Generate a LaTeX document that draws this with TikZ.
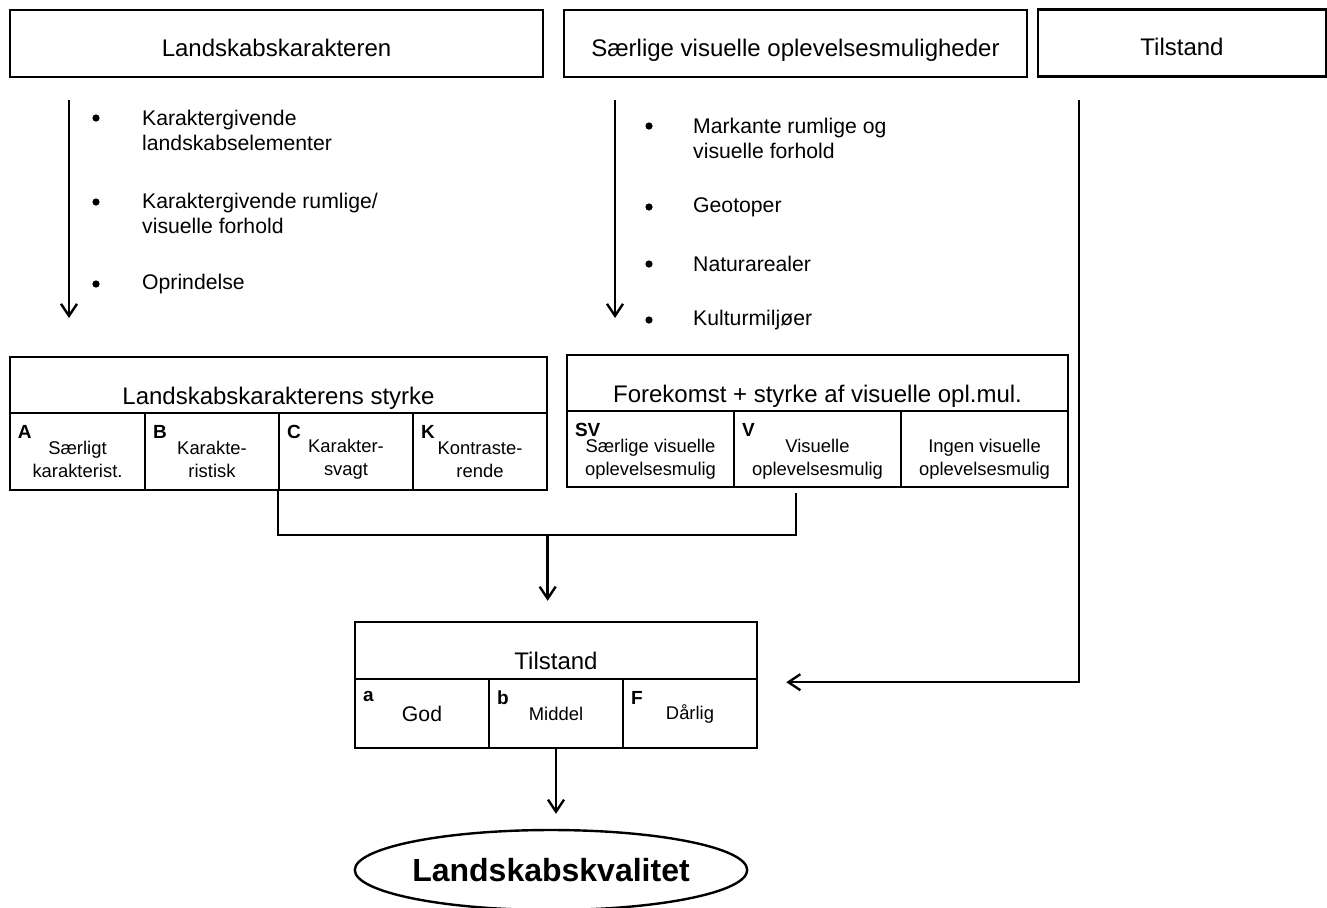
\documentclass[tikz,border=0pt]{standalone}
\usepackage{fontspec}
\setmainfont{Liberation Sans}
\usetikzlibrary{arrows.meta,shapes.geometric,calc}
\newcommand{\cellup}[1]{\rule{0pt}{#1}}

\begin{document}
\begin{tikzpicture}[
  x=0.5pt,y=-0.5pt,
  line width=1.2pt,
  >={Straight Barb[length=6pt,width=8pt]},
  bx/.style={draw,rectangle,inner sep=2pt,minimum height=33.5pt,font=\fontsize{12}{14}\selectfont,text height=12.5pt,text depth=0pt},
  hd/.style={draw,rectangle,inner sep=2pt,minimum height=28pt,font=\fontsize{12}{14}\selectfont,text height=19pt,text depth=0pt},
  cl/.style={draw,rectangle,inner sep=1pt,minimum width=67pt,align=center,font=\fontsize{9.2}{11.5}\selectfont},
  mk/.style={label={[anchor=north west,inner sep=0pt,xshift=4pt,yshift=-6pt,font=\bfseries\fontsize{9.5}{11}\selectfont]north west:#1}},
  itm/.style={anchor=west,align=left,inner sep=0pt,font=\fontsize{10.6}{12.5}\selectfont},
  dot/.style={circle,fill,inner sep=0pt,minimum size=3.6pt}
]
\useasboundingbox (0,0) rectangle (1327,907);
% upper row
\node[bx,minimum width=266.5pt] (lk) at (276.5,43.5) {Landskabskarakteren};
\node[bx,minimum width=231.5pt] (sv) at (795.5,43.5) {Særlige visuelle oplevelsesmuligheder};
\node[bx,minimum width=144pt] (ts) at (1182,43) {Tilstand};
% left list
\node[dot] (d1) at (96,118) {};
\node[itm] (i1) at (141,130.5) {Karaktergivende\\landskabselementer};
\node[dot] (d2) at (96,202) {};
\node[itm] (i2) at (141,213.5) {Karaktergivende rumlige/\\visuelle forhold};
\node[dot] (d3) at (96,284) {};
\node[itm] (i3) at (141,284) {Oprindelse};
% right list
\node[dot] (d4) at (649,126) {};
\node[itm] (i4) at (692,138) {Markante rumlige og\\visuelle forhold};
\node[dot] (d5) at (649,207) {};
\node[itm] (i5) at (692,207) {Geotoper};
\node[dot] (d6) at (649,264) {};
\node[itm] (i6) at (692,264) {Naturarealer};
\node[dot] (d7) at (649,320) {};
\node[itm] (i7) at (692,320) {Kulturmiljøer};
% list arrows
\coordinate (a1) at (69,100);
\coordinate (a1e) at (69,318);
\coordinate (a2) at (615,100);
\coordinate (a2e) at (615,318);
\draw[->] (a1) -- (a1e);
\draw[->] (a2) -- (a2e);
% strength of the character
\node[hd,minimum width=268.5pt] (ks) at (278.5,385) {Landskabskarakterens styrke};
\node[cl,mk=A,minimum width=67.5pt,minimum height=38.5pt] (kA) at (77.5,451.5) {\cellup{14.7pt}Særligt\\karakterist.};
\node[cl,mk=B,minimum height=38.5pt] (kB) at (212,451.5) {\cellup{14.7pt}Karakte-\\ristisk};
\node[cl,mk=C,minimum height=38.5pt] (kC) at (346,451.5) {\cellup{14.7pt}Karakter-\\svagt};
\node[cl,mk=K,minimum height=38.5pt] (kK) at (480,451.5) {\cellup{14.7pt}Kontraste-\\rende};
% visual experiences
\node[hd,minimum width=250.5pt] (fs) at (817.5,383) {Forekomst + styrke af visuelle opl.mul.};
\node[cl,mk=SV,minimum width=83.5pt,minimum height=38pt] (fSV) at (650.5,449) {\cellup{16.7pt}Særlige visuelle\\oplevelsesmulig};
\node[cl,mk=V,minimum width=83.5pt,minimum height=38pt] (fV) at (817.5,449) {\cellup{16.7pt}Visuelle\\oplevelsesmulig};
\node[cl,minimum width=83.5pt,minimum height=38pt] (fI) at (984.5,449) {\cellup{16.7pt}Ingen visuelle\\oplevelsesmulig};
% condition
\node[hd,minimum width=201pt,minimum height=28.5pt] (tH) at (556,650.5) {Tilstand};
\node[cl,mk=a,minimum height=34.5pt] (ta) at (422,713.5) {\fontsize{10.6}{12}\selectfont God};
\node[cl,mk=b,minimum height=34.5pt] (tb) at (556,713.5) {Middel};
\node[cl,mk=F,minimum height=34.5pt] (tF) at (690,713.5) {Dårlig};
% result
\node[draw,ellipse,minimum width=195pt,minimum height=40pt,inner sep=0pt,font=\bfseries\fontsize{16}{18}\selectfont] (kv) at (551,870) {Landskabskvalitet};
% join the two strengths
\draw (kC.south west) -- ++(0,44) coordinate (jn) -| ([xshift=-10.75pt,yshift=-2.5pt]fV.south);
\coordinate (jm) at ($(jn)!0.5!(jn -| fV.south)$);
\draw[->] (jm) -- ($(jm |- tH.north)+(0,-20)$);
% condition from the top
\coordinate (r0) at (1079,100);
\draw[->] (r0) |- ([xshift=14pt,yshift=-1pt]tH.south east);
\draw[->] (tb.south) -- ($(tb.south |- kv.north)+(0,-15)$);
\end{tikzpicture}
\end{document}
